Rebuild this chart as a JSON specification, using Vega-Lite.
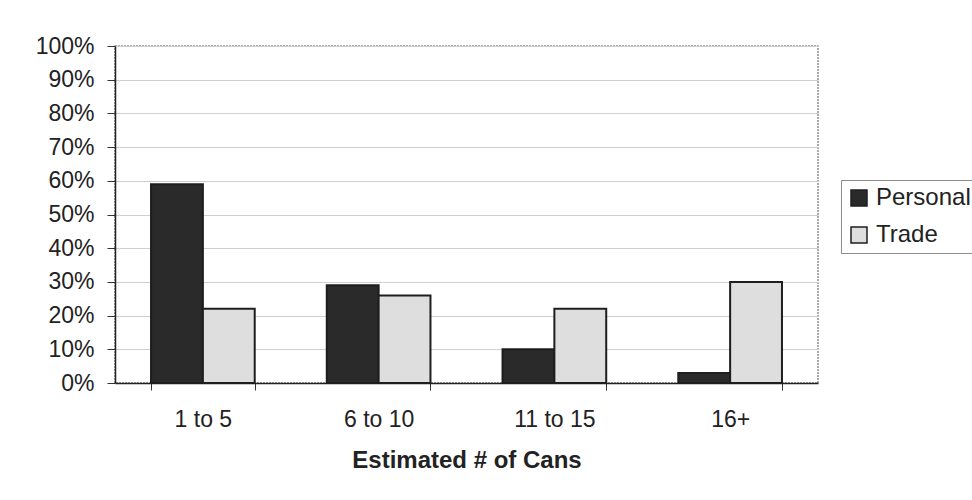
{
  "$schema": "https://vega.github.io/schema/vega-lite/v6.json",
  "autosize": {"type": "none"},
  "width": 703,
  "height": 337,
  "padding": {"left": 115, "top": 46, "right": 154, "bottom": 117},
  "background": "white",
  "data": {
    "values": [
      {"cans": "1 to 5", "group": "Personal", "share": 0.59},
      {"cans": "1 to 5", "group": "Trade", "share": 0.22},
      {"cans": "6 to 10", "group": "Personal", "share": 0.29},
      {"cans": "6 to 10", "group": "Trade", "share": 0.26},
      {"cans": "11 to 15", "group": "Personal", "share": 0.10},
      {"cans": "11 to 15", "group": "Trade", "share": 0.22},
      {"cans": "16+", "group": "Personal", "share": 0.03},
      {"cans": "16+", "group": "Trade", "share": 0.30}
    ]
  },
  "mark": {"type": "bar", "stroke": "#1e1e1e", "strokeWidth": 2},
  "encoding": {
    "x": {
      "field": "cans",
      "type": "nominal",
      "sort": ["1 to 5", "6 to 10", "11 to 15", "16+"],
      "scale": {"paddingInner": 0.41, "paddingOuter": 0.205},
      "axis": {
        "title": "Estimated # of Cans",
        "labelAngle": 0,
        "grid": false,
        "tickBand": "extent",
        "tickSize": 7,
        "tickColor": "#333",
        "domainColor": "#222",
        "domainWidth": 1.5,
        "labelFontSize": 23,
        "labelPadding": 18,
        "titleFontSize": 24,
        "titleFontWeight": "bold",
        "titlePadding": 17
      }
    },
    "xOffset": {
      "field": "group",
      "type": "nominal",
      "scale": {"paddingInner": 0, "paddingOuter": 0}
    },
    "y": {
      "field": "share",
      "type": "quantitative",
      "scale": {"domain": [0, 1], "nice": false},
      "axis": {
        "title": null,
        "format": ".0%",
        "values": [0, 0.1, 0.2, 0.3, 0.4, 0.5, 0.6, 0.7, 0.8, 0.9, 1],
        "tickSize": 8,
        "tickColor": "#333",
        "domainColor": "#222",
        "domainWidth": 1.5,
        "gridColor": "#cfcfcf",
        "gridWidth": 1,
        "labelFontSize": 23,
        "labelPadding": 13
      }
    },
    "color": {
      "field": "group",
      "type": "nominal",
      "scale": {"domain": ["Personal", "Trade"], "range": ["#2a2a2a", "#dedede"]},
      "legend": {
        "title": null,
        "orient": "none",
        "legendX": 726,
        "legendY": 134,
        "strokeColor": "#8c8c8c",
        "padding": 6,
        "symbolType": "square",
        "symbolSize": 256,
        "symbolStrokeColor": "#1e1e1e",
        "symbolStrokeWidth": 1.5,
        "symbolOpacity": 1,
        "labelFontSize": 24,
        "labelOffset": 5,
        "labelColor": "#222",
        "rowPadding": 13
      }
    }
  },
  "config": {
    "font": "Liberation Sans",
    "view": {"stroke": "#8f8f8f", "strokeDash": [2, 1], "strokeWidth": 1.5},
    "axis": {"labelColor": "#222", "titleColor": "#222"}
  }
}
